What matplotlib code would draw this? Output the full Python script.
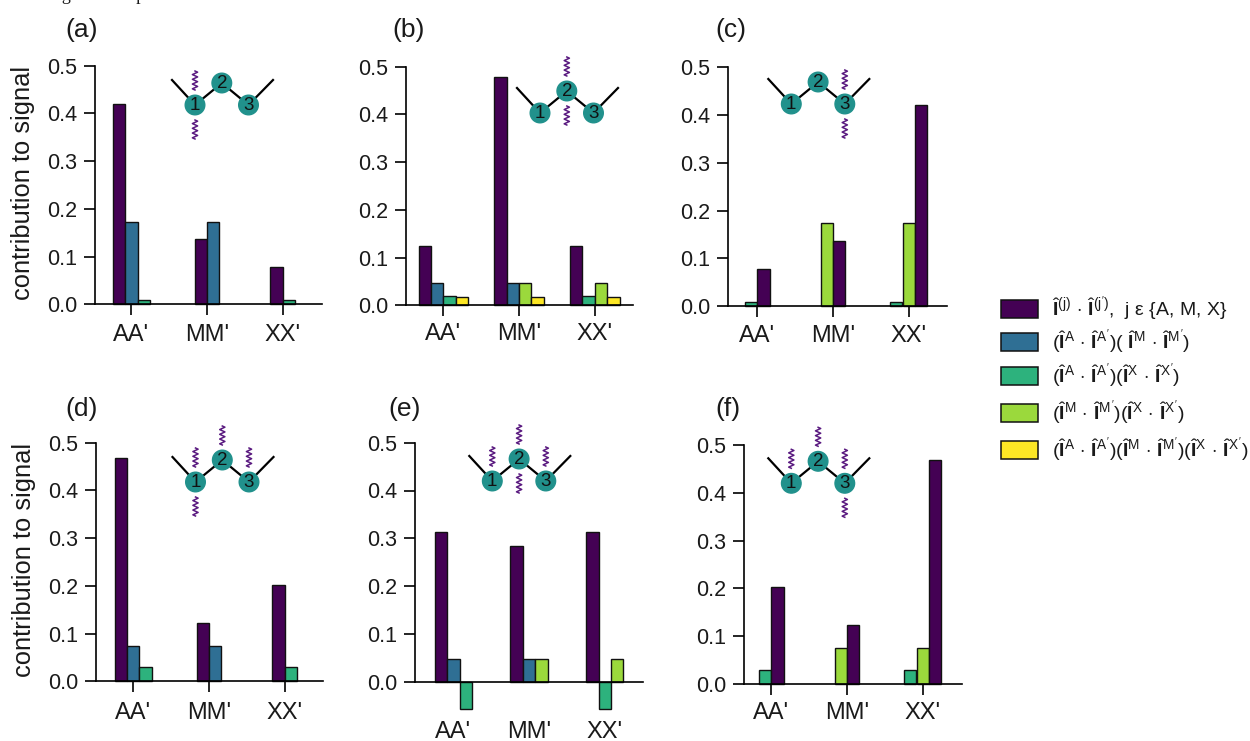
import numpy as np
import matplotlib
matplotlib.use('Agg')
import matplotlib.pyplot as plt
from matplotlib.patches import Rectangle, Circle

plt.rcParams['font.family'] = ['Liberation Sans', 'DejaVu Sans']
plt.rcParams['mathtext.fontset'] = 'custom'
plt.rcParams['mathtext.rm'] = 'Liberation Sans'
plt.rcParams['mathtext.it'] = 'Liberation Sans'
plt.rcParams['mathtext.bf'] = 'Liberation Sans:bold'

W, H = 1250, 741
categories = ["AA'", "MM'", "XX'"]
colors = ['#440154', '#2f6f94', '#2db27d', '#9bd93c', '#fde725']

# series index: 0 purple, 1 blue, 2 green, 3 light green, 4 yellow
series_a = [[0, 1, 2], [0, 1], [0, 2]]
values_a = [[0.42, 0.173, 0.008], [0.137, 0.173], [0.078, 0.008]]
series_b = [[0, 1, 2, 4], [0, 1, 3, 4], [0, 2, 3, 4]]
values_b = [[0.124, 0.046, 0.02, 0.018], [0.478, 0.046, 0.046, 0.018], [0.124, 0.02, 0.046, 0.018]]
series_c = [[2, 0], [3, 0], [2, 3, 0]]
values_c = [[0.008, 0.078], [0.173, 0.137], [0.008, 0.173, 0.42]]
series_d = [[0, 1, 2], [0, 1], [0, 2]]
values_d = [[0.468, 0.075, 0.03], [0.123, 0.075], [0.202, 0.03]]
series_e = [[0, 1, 2], [0, 1, 3], [0, 2, 3]]
values_e = [[0.314, 0.048, -0.057], [0.284, 0.048, 0.048], [0.314, -0.057, 0.048]]
series_f = [[2, 0], [3, 0], [2, 3, 0]]
values_f = [[0.03, 0.202], [0.075, 0.123], [0.03, 0.075, 0.468]]

dot = r"\,\cdot\,"
legend_labels = [
    r"$\hat{\mathbf{I}}^{(j)}" + dot + r"\hat{\mathbf{I}}^{(j')}$,  j $\epsilon$ {A, M, X}",
    r"$(\hat{\mathbf{I}}^{A}" + dot + r"\hat{\mathbf{I}}^{A'})(\ \hat{\mathbf{I}}^{M}" + dot + r"\hat{\mathbf{I}}^{M'})$",
    r"$(\hat{\mathbf{I}}^{A}" + dot + r"\hat{\mathbf{I}}^{A'})(\hat{\mathbf{I}}^{X}" + dot + r"\hat{\mathbf{I}}^{X'})$",
    r"$(\hat{\mathbf{I}}^{M}" + dot + r"\hat{\mathbf{I}}^{M'})(\hat{\mathbf{I}}^{X}" + dot + r"\hat{\mathbf{I}}^{X'})$",
    r"$(\hat{\mathbf{I}}^{A}" + dot + r"\hat{\mathbf{I}}^{A'})(\hat{\mathbf{I}}^{M}" + dot + r"\hat{\mathbf{I}}^{M'})(\hat{\mathbf{I}}^{X}" + dot + r"\hat{\mathbf{I}}^{X'})$",
]

# name, series, values, spine x, top y, zero y, right x, first tick x, molecule x/y, squiggles (atom, side), label pad
panels = [
    ('(a)', series_a, values_a, 94.7, 65.7, 304.3, 321.7, 131.3, 195, 105, [(0, -1), (0, 1)], 6.4),
    ('(b)', series_b, values_b, 406, 66.7, 305.3, 633, 443.3, 540, 113, [(1, -1), (1, 1)], 5),
    ('(c)', series_c, values_c, 727.7, 67.3, 306, 946.7, 757.3, 791.3, 104, [(2, -1), (2, 1)], 5.6),
    ('(d)', series_d, values_d, 96, 442.7, 681.3, 323.3, 133.3, 195.5, 482, [(0, -1), (0, 1), (1, -1), (2, -1)], 7),
    ('(e)', series_e, values_e, 415.3, 442.7, 681.7, 643, 453.3, 492.3, 481, [(0, -1), (1, -1), (1, 1), (2, -1)], 28),
    ('(f)', series_f, values_f, 744, 445, 684, 961.7, 771.3, 791.3, 483.3, [(0, -1), (1, -1), (2, -1), (2, 1)], 5),
]
label_pos = [(65, 30), (392, 30), (715, 30), (65, 409), (388, 409), (715, 409)]

fig = plt.figure(figsize=(W / 100, H / 100), dpi=100)
spacing = 75.7
bar_w = 12.4 / spacing
ink = '#1a1a1a'

for i, p in enumerate(panels):
    name, ser, vals, x0, ytop, y0, x1, tick0 = p[:8]
    ax = fig.add_axes([x0 / W, 1 - y0 / H, (x1 - x0) / W, (y0 - ytop) / H])
    ax.patch.set_alpha(0)
    ax.set_xlim((x0 - tick0) / spacing, (x1 - tick0) / spacing)
    ax.set_ylim(0, 0.5)
    for k in range(3):
        n = len(ser[k])
        for j in range(n):
            ax.bar(k + (j - n / 2 + 0.5) * bar_w, vals[k][j], bar_w, color=colors[ser[k][j]],
                   edgecolor='#111111', linewidth=1.0, clip_on=False, zorder=3)
    ax.spines['top'].set_visible(False)
    ax.spines['right'].set_visible(False)
    ax.spines['left'].set_linewidth(1.2)
    ax.spines['bottom'].set_linewidth(1.2)
    ax.spines['bottom'].set_zorder(4)
    ax.set_xticks([0, 1, 2])
    ax.set_xticklabels(categories)
    ax.set_yticks([0, 0.1, 0.2, 0.3, 0.4, 0.5])
    ax.tick_params(axis='y', length=7.8, width=1.2, labelsize=15.5, pad=5, labelcolor=ink)
    if name == '(e)':
        ax.tick_params(axis='x', length=0, labelsize=17, pad=p[11], labelcolor=ink)
    else:
        ax.tick_params(axis='x', length=7.8, width=1.2, labelsize=17, pad=p[11], labelcolor=ink)
    if i in (0, 3):
        ax.set_ylabel('contribution to signal', fontsize=18.4, color=ink)
        ax.yaxis.set_label_coords(-0.265, 0.51)

# overlay in pixel coordinates for the schematics, panel letters and legend
ov = fig.add_axes([0, 0, 1, 1])
ov.set_xlim(0, W)
ov.set_ylim(H, 0)
ov.axis('off')
ov.patch.set_alpha(0)


def squiggle(x, yc):
    ys = np.linspace(yc - 9.5, yc + 9.5, 17)
    xs = x + 2.6 * np.array([0, 1, 0, -1] * 5)[:17]
    ov.plot(xs, ys, color='#5a1a80', lw=1.1, zorder=5)


for i, p in enumerate(panels):
    mx, my, marks = p[8], p[9], p[10]
    ax_ = [mx, mx + 26.8, mx + 53.5]
    ay_ = [my, my - 22, my]
    ov.plot([mx - 23] + ax_ + [mx + 78], [my - 25] + ay_ + [my - 25], color='black', lw=1.6, zorder=5)
    for a in range(3):
        ov.add_patch(Circle((ax_[a], ay_[a]), 9.8, color='#21918c', zorder=6))
        ov.text(ax_[a], ay_[a] + 0.5, str(a + 1), fontsize=13.5, ha='center', va='center', color='#111111', zorder=7)
    for atom, side in marks:
        squiggle(ax_[atom], ay_[atom] + side * 24.5)
    ov.text(label_pos[i][0], label_pos[i][1], p[0], fontsize=19, ha='left', va='center', color=ink)

# clipped line of caption text at the very top of the page
ov.text(47, -0.5, 'Figure 10: Spin', fontsize=13, family='Liberation Serif', ha='left', va='baseline', color=ink)

legend_y = [309, 342, 376, 413, 450]
for c, y, lab in zip(colors, legend_y, legend_labels):
    ov.add_patch(Rectangle((1001, y - 8.7), 36.5, 17.5, facecolor=c, edgecolor='#111111', lw=1.1))
    ov.text(1052, y, lab, fontsize=14, ha='left', va='center', color=ink)

fig.savefig('out.png', dpi=100)
